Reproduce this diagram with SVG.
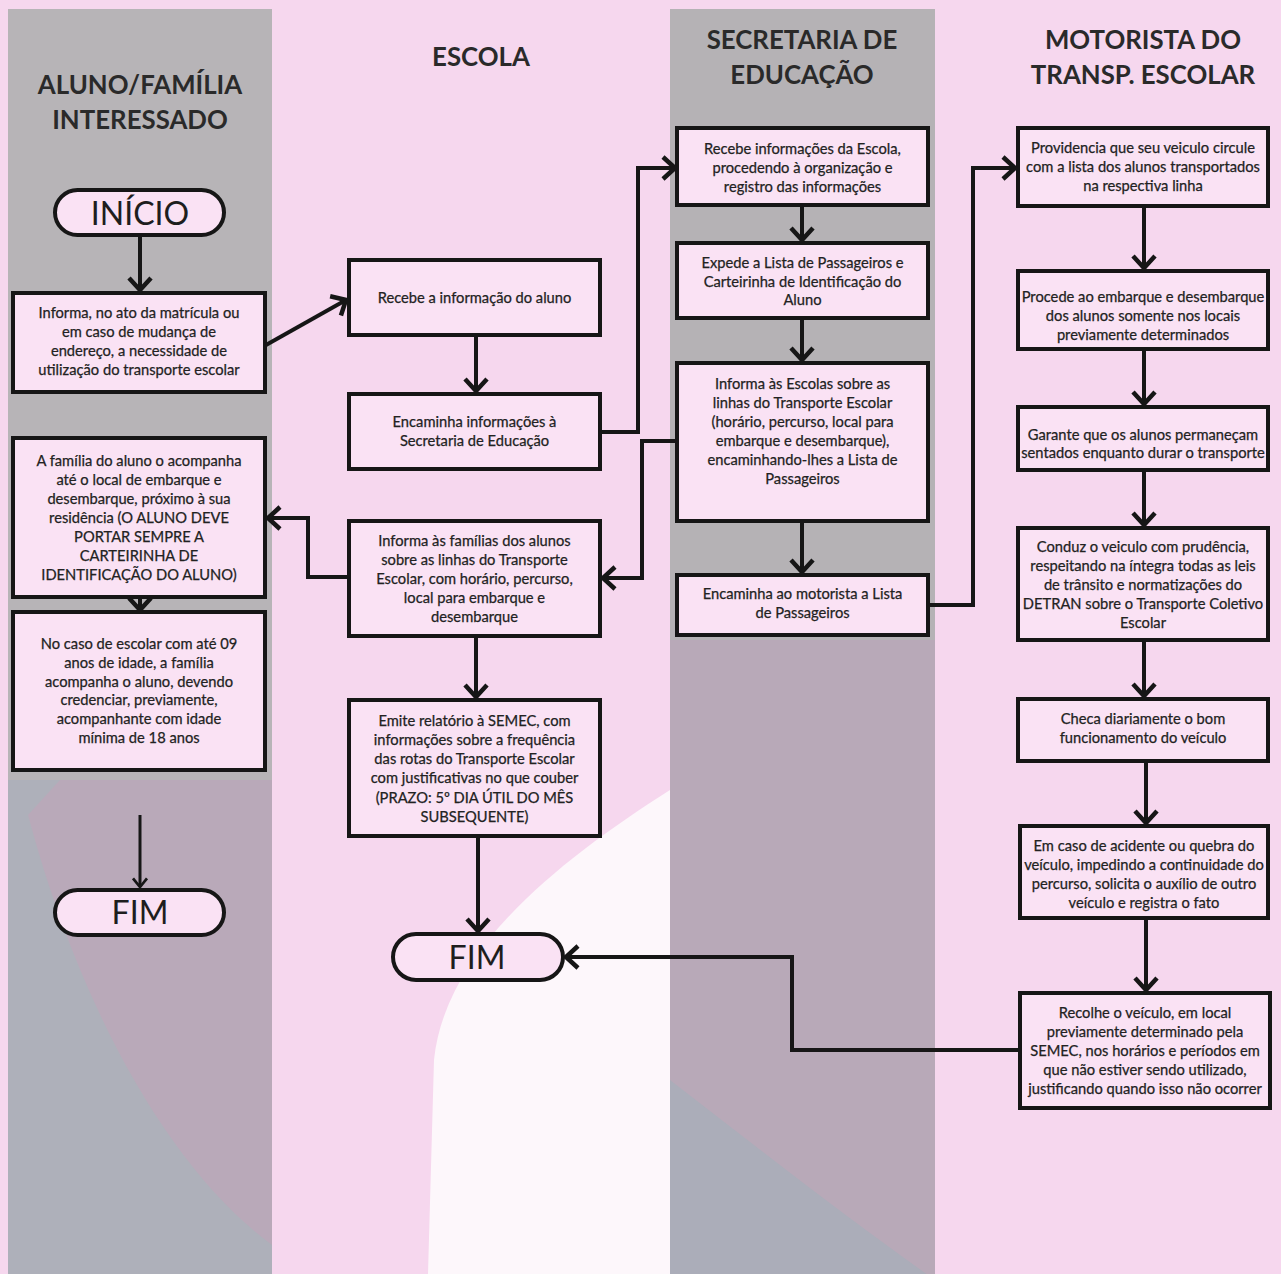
<svg xmlns="http://www.w3.org/2000/svg" width="1281" height="1274" viewBox="0 0 1281 1274">
<defs>
<style>
.box{fill:#fae2f4;stroke:#161616;stroke-width:4}
.term{fill:#fae2f4;stroke:#161616;stroke-width:4}
.t{font-family:Lato,"Open Sans","DejaVu Sans",sans-serif;font-size:14.7px;fill:#222;stroke:#222;stroke-width:0.25px;text-anchor:middle}
.h{font-family:Lato,"Open Sans",sans-serif;font-weight:bold;font-size:25.8px;fill:#2a2a2a;text-anchor:middle}
.tt{font-family:Lato,"Open Sans",sans-serif;font-size:32px;fill:#1e1e1e;text-anchor:middle}
.c{fill:none;stroke:#161616;stroke-width:4;marker-end:url(#arr)}
</style>
<marker id="arr" viewBox="-16 -14 18 28" markerWidth="18" markerHeight="28" refX="0" refY="0" orient="auto" markerUnits="userSpaceOnUse">
<path d="M -12 -11 L 0 0 L -12 11" fill="none" stroke="#161616" stroke-width="4.5" stroke-linejoin="miter"/>
</marker>
<marker id="arrs" viewBox="-16 -14 18 28" markerWidth="14" markerHeight="22" refX="0" refY="0" orient="auto" markerUnits="userSpaceOnUse">
<path d="M -11 -9 L 0 0 L -11 9" fill="none" stroke="#161616" stroke-width="3.5"/>
</marker>
</defs>

<g id="background">
<rect x="0" y="0" width="1281" height="1274" fill="#f6d7ee"/>
<path d="M 670 790 C 560 860 445 950 434 1060 L 428 1274 L 670 1274 Z" fill="#fdf7fb"/>
<rect x="8" y="9" width="264" height="1265" fill="#b7b4b7"/>
<path d="M 8 780 L 272 780 L 272 1274 L 8 1274 Z" fill="#aeb0ba"/>
<path d="M 60 780 L 272 780 L 272 1245 C 170 1170 80 1010 28 815 Z" fill="#b9a9b9"/>
<rect x="670" y="9" width="265" height="1265" fill="#b5b2b5"/>
<path d="M 670 640 L 935 640 L 935 1274 L 670 1274 Z" fill="#b8a9b8"/>
<path d="M 670 1080 C 760 1150 850 1220 935 1280 L 935 1274 L 670 1274 Z" fill="#abadb9"/>
</g>

<g id="lane-headers">
<text class="h" x="140" y="94">ALUNO/FAMÍLIA</text>
<text class="h" x="140" y="129">INTERESSADO</text>
<text class="h" x="481" y="66">ESCOLA</text>
<text class="h" x="802" y="49">SECRETARIA DE</text>
<text class="h" x="802" y="84">EDUCAÇÃO</text>
<text class="h" x="1143" y="49">MOTORISTA DO</text>
<text class="h" x="1143" y="84">TRANSP. ESCOLAR</text>
</g>

<g id="connectors">
<line class="c" x1="140" y1="236" x2="140" y2="290"/>
<line class="c" x1="266" y1="345" x2="346" y2="300"/>
<line class="c" x1="140" y1="598" x2="140" y2="610"/>
<line class="c" x1="140" y1="815" x2="140" y2="887" style="stroke-width:3;marker-end:url(#arrs)"/>
<line class="c" x1="476" y1="336" x2="476" y2="391"/>
<polyline class="c" points="601,432 638,432 638,168 675,168"/>
<polyline class="c" points="677,441 642,441 642,578 603,578"/>
<polyline class="c" points="349,577 308,577 308,518 268,518"/>
<line class="c" x1="476" y1="637" x2="476" y2="697"/>
<line class="c" x1="478" y1="837" x2="478" y2="931"/>
<line class="c" x1="802" y1="206" x2="802" y2="240"/>
<line class="c" x1="802" y1="319" x2="802" y2="360"/>
<line class="c" x1="802" y1="522" x2="802" y2="572"/>
<polyline class="c" points="929,605 973,605 973,168 1015,168"/>
<line class="c" x1="1144" y1="207" x2="1144" y2="268"/>
<line class="c" x1="1144" y1="350" x2="1144" y2="404"/>
<line class="c" x1="1144" y1="471" x2="1144" y2="525"/>
<line class="c" x1="1144" y1="641" x2="1144" y2="696"/>
<line class="c" x1="1146" y1="762" x2="1146" y2="823"/>
<line class="c" x1="1146" y1="919" x2="1146" y2="990"/>
<polyline class="c" points="1020,1050 792,1050 792,957 566,957"/>
</g>

<g id="inicio">
<rect class="term" x="55" y="190" width="169" height="45" rx="22.5"/>
<text class="tt" x="140" y="225">INÍCIO</text>
</g>

<g id="aluno-informa">
<rect class="box" x="13" y="293" width="252" height="99"/>
<text class="t" x="139" y="318">Informa, no ato da matrícula ou</text>
<text class="t" x="139" y="337">em caso de mudança de</text>
<text class="t" x="139" y="356">endereço, a necessidade de</text>
<text class="t" x="139" y="375">utilização do transporte escolar</text>
</g>

<g id="aluno-acompanha">
<rect class="box" x="13" y="438" width="252" height="159"/>
<text class="t" x="139" y="466">A família do aluno o acompanha</text>
<text class="t" x="139" y="485">até o local de embarque e</text>
<text class="t" x="139" y="504">desembarque, próximo à sua</text>
<text class="t" x="139" y="523">residência (O ALUNO DEVE</text>
<text class="t" x="139" y="542">PORTAR SEMPRE A</text>
<text class="t" x="139" y="561">CARTEIRINHA DE</text>
<text class="t" x="139" y="580">IDENTIFICAÇÃO DO ALUNO)</text>
</g>

<g id="aluno-escolar09">
<rect class="box" x="13" y="612" width="252" height="158"/>
<text class="t" x="139" y="649">No caso de escolar com até 09</text>
<text class="t" x="139" y="668">anos de idade, a família</text>
<text class="t" x="139" y="687">acompanha o aluno, devendo</text>
<text class="t" x="139" y="705">credenciar, previamente,</text>
<text class="t" x="139" y="724">acompanhante com idade</text>
<text class="t" x="139" y="743">mínima de 18 anos</text>
</g>

<g id="fim-aluno">
<rect class="term" x="55" y="890" width="169" height="45" rx="22.5"/>
<text class="tt" x="140" y="924">FIM</text>
</g>

<g id="escola-recebe">
<rect class="box" x="349" y="260" width="251" height="75"/>
<text class="t" x="474.5" y="303">Recebe a informação do aluno</text>
</g>

<g id="escola-encaminha">
<rect class="box" x="349" y="394" width="251" height="75"/>
<text class="t" x="474.5" y="427">Encaminha informações à</text>
<text class="t" x="474.5" y="446">Secretaria de Educação</text>
</g>

<g id="escola-informa">
<rect class="box" x="349" y="521" width="251" height="115"/>
<text class="t" x="474.5" y="546">Informa às famílias dos alunos</text>
<text class="t" x="474.5" y="565">sobre as linhas do Transporte</text>
<text class="t" x="474.5" y="584">Escolar, com horário, percurso,</text>
<text class="t" x="474.5" y="603">local para embarque e</text>
<text class="t" x="474.5" y="622">desembarque</text>
</g>

<g id="escola-relatorio">
<rect class="box" x="349" y="700" width="251" height="136"/>
<text class="t" x="474.5" y="726">Emite relatório à SEMEC, com</text>
<text class="t" x="474.5" y="745">informações sobre a frequência</text>
<text class="t" x="474.5" y="764">das rotas do Transporte Escolar</text>
<text class="t" x="474.5" y="783">com justificativas no que couber</text>
<text class="t" x="474.5" y="803">(PRAZO: 5º DIA ÚTIL DO MÊS</text>
<text class="t" x="474.5" y="822">SUBSEQUENTE)</text>
</g>

<g id="fim-escola">
<rect class="term" x="393" y="934" width="170" height="46" rx="23"/>
<text class="tt" x="477" y="969">FIM</text>
</g>

<g id="sec-recebe">
<rect class="box" x="677" y="128" width="251" height="77"/>
<text class="t" x="802.5" y="154">Recebe informações da Escola,</text>
<text class="t" x="802.5" y="173">procedendo à organização e</text>
<text class="t" x="802.5" y="192">registro das informações</text>
</g>

<g id="sec-expede">
<rect class="box" x="677" y="243" width="251" height="75"/>
<text class="t" x="802.5" y="268">Expede a Lista de Passageiros e</text>
<text class="t" x="802.5" y="287">Carteirinha de Identificação do</text>
<text class="t" x="802.5" y="305">Aluno</text>
</g>

<g id="sec-informa">
<rect class="box" x="677" y="363" width="251" height="158"/>
<text class="t" x="802.5" y="389">Informa às Escolas sobre as</text>
<text class="t" x="802.5" y="408">linhas do Transporte Escolar</text>
<text class="t" x="802.5" y="427">(horário, percurso, local para</text>
<text class="t" x="802.5" y="446">embarque e desembarque),</text>
<text class="t" x="802.5" y="465">encaminhando-lhes a Lista de</text>
<text class="t" x="802.5" y="484">Passageiros</text>
</g>

<g id="sec-encaminha">
<rect class="box" x="677" y="575" width="251" height="60"/>
<text class="t" x="802.5" y="599">Encaminha ao motorista a Lista</text>
<text class="t" x="802.5" y="618">de Passageiros</text>
</g>

<g id="mot-providencia">
<rect class="box" x="1018" y="128" width="250" height="78"/>
<text class="t" x="1143" y="153">Providencia que seu veiculo circule</text>
<text class="t" x="1143" y="172">com a lista dos alunos transportados</text>
<text class="t" x="1143" y="191">na respectiva linha</text>
</g>

<g id="mot-embarque">
<rect class="box" x="1018" y="271" width="250" height="78"/>
<text class="t" x="1143" y="302">Procede ao embarque e desembarque</text>
<text class="t" x="1143" y="321">dos alunos somente nos locais</text>
<text class="t" x="1143" y="340">previamente determinados</text>
</g>

<g id="mot-garante">
<rect class="box" x="1018" y="407" width="250" height="63"/>
<text class="t" x="1143" y="440">Garante que os alunos permaneçam</text>
<text class="t" x="1143" y="458">sentados enquanto durar o transporte</text>
</g>

<g id="mot-conduz">
<rect class="box" x="1018" y="528" width="250" height="112"/>
<text class="t" x="1143" y="552">Conduz o veiculo com prudência,</text>
<text class="t" x="1143" y="571">respeitando na íntegra todas as leis</text>
<text class="t" x="1143" y="590">de trânsito e normatizações do</text>
<text class="t" x="1143" y="609">DETRAN sobre o Transporte Coletivo</text>
<text class="t" x="1143" y="628">Escolar</text>
</g>

<g id="mot-checa">
<rect class="box" x="1018" y="699" width="250" height="62"/>
<text class="t" x="1143" y="724">Checa diariamente o bom</text>
<text class="t" x="1143" y="743">funcionamento do veículo</text>
</g>

<g id="mot-acidente">
<rect class="box" x="1020" y="826" width="248" height="92"/>
<text class="t" x="1144" y="851">Em caso de acidente ou quebra do</text>
<text class="t" x="1144" y="870">veículo, impedindo a continuidade do</text>
<text class="t" x="1144" y="889">percurso, solicita o auxílio de outro</text>
<text class="t" x="1144" y="908">veículo e registra o fato</text>
</g>

<g id="mot-recolhe">
<rect class="box" x="1020" y="993" width="250" height="115"/>
<text class="t" x="1145" y="1018">Recolhe o veículo, em local</text>
<text class="t" x="1145" y="1037">previamente determinado pela</text>
<text class="t" x="1145" y="1056">SEMEC, nos horários e períodos em</text>
<text class="t" x="1145" y="1075">que não estiver sendo utilizado,</text>
<text class="t" x="1145" y="1094">justificando quando isso não ocorrer</text>
</g>
</svg>
